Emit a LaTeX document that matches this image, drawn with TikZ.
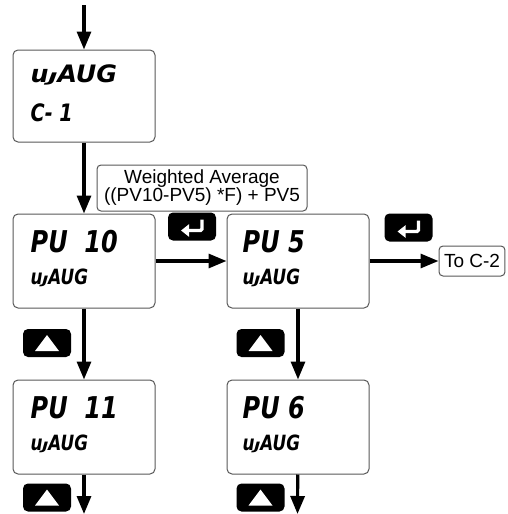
\documentclass[tikz,border=0pt]{standalone}
\usepackage{fontspec}
\setmainfont{Liberation Sans}
\newfontfamily\lcdfont{DejaVu Sans}[FakeStretch=0.8]
\newfontfamily\lcdwide{DejaVu Sans}[FakeStretch=1.05]
\usetikzlibrary{arrows.meta, positioning}
\definecolor{boxedge}{RGB}{88,88,88}
\newcommand{\lcdw}{u\kern-0.5pt\scalebox{1}[0.55]{J}}

\begin{document}
\begin{tikzpicture}[
    x=1pt, y=-1pt,
    node distance=71pt,
    display/.style={rectangle, rounded corners=5pt, draw=boxedge, line width=1pt, fill=white, minimum width=142pt, minimum height=94pt, inner sep=0pt},
    lcdbig/.style={anchor=base west, inner sep=0pt, font=\lcdfont\bfseries\itshape\fontsize{30}{30}\selectfont},
    lcdsmall/.style={anchor=base west, inner sep=0pt, font=\lcdfont\bfseries\itshape\fontsize{21}{21}\selectfont},
    note/.style={rectangle, rounded corners=4pt, draw=boxedge, line width=1pt, fill=white, align=center, inner sep=2pt, font=\fontsize{19}{18}\selectfont},
    keybox/.style={rectangle, rounded corners=5pt, fill=black, minimum width=48pt, minimum height=28pt, inner sep=0pt},
    enterkey/.style={keybox, path picture={\draw[white, line width=3.2pt, rounded corners=1.5pt, -{Triangle[length=8pt,width=12pt]}] ([shift={(10pt,7pt)}]path picture bounding box.center) -- ++(0pt,-11pt) -- ++(-21pt,0pt);}},
    upkey/.style={keybox, path picture={\fill[white, sharp corners] ([shift={(-12pt,-8pt)}]path picture bounding box.center) -- ++(24pt,0pt) -- ++(-12pt,16pt) -- cycle;}},
    harrow/.style={-{Triangle[length=18pt,width=14pt]}, line width=3.2pt}
]
\useasboundingbox (0,0) rectangle (507,514);

% display boxes
\node[display, minimum height=92pt] (wavg) at (84,96) {};
\node[display, below=of wavg] (pvten) {};
\node[display, right=of pvten] (pvfive) {};
\node[display, below=of pvten] (pveleven) {};
\node[display, below=of pvfive] (pvsix) {};
\node[note, right=69pt of pvfive, inner xsep=5pt, minimum height=30pt] (toctwo) {To C-2};
\node[note, minimum width=210pt, minimum height=46pt] (formula) at (202,188) {Weighted Average\\((PV10-PV5) *F) + PV5};

% display texts
\node[lcdbig, font=\lcdwide\bfseries\itshape\fontsize{24}{24}\selectfont] (wavgtop) at ([shift={(18pt,-33pt)}]wavg.north west) {\lcdw AUG};
\node[lcdsmall, font=\lcdfont\bfseries\itshape\fontsize{24}{24}\selectfont] (wavgbot) at ([shift={(18pt,-72pt)}]wavg.north west) {C- 1};
\node[lcdbig] (pvtentop) at ([shift={(18pt,-39pt)}]pvten.north west) {PU\ \ 10};
\node[lcdsmall] (pvtenbot) at ([shift={(18pt,-71pt)}]pvten.north west) {\lcdw AUG};
\node[lcdbig] (pvfivetop) at ([shift={(16pt,-39pt)}]pvfive.north west) {PU\ 5};
\node[lcdsmall] (pvfivebot) at ([shift={(16pt,-71pt)}]pvfive.north west) {\lcdw AUG};
\node[lcdbig] (pveleventop) at ([shift={(18pt,-39pt)}]pveleven.north west) {PU\ \ 11};
\node[lcdsmall] (pvelevenbot) at ([shift={(18pt,-71pt)}]pveleven.north west) {\lcdw AUG};
\node[lcdbig] (pvsixtop) at ([shift={(16pt,-39pt)}]pvsix.north west) {PU\ 6};
\node[lcdsmall] (pvsixbot) at ([shift={(16pt,-71pt)}]pvsix.north west) {\lcdw AUG};

% keys
\node[enterkey] (entera) at (192,226.5) {};
\node[enterkey] (enterb) at (408.5,227.5) {};
\node[upkey] (upa) at (47,343) {};
\node[upkey] (upb) at (260.5,343) {};
\node[upkey] (upc) at (47,497.5) {};
\node[upkey] (upd) at (260.5,497.5) {};

\coordinate (entry) at (84,5);
\coordinate (exita) at (84,514);
\coordinate (exitb) at (297.5,514);

\draw[harrow] (entry) -- (wavg);
\draw[harrow] (wavg) -- (pvten);
\draw[harrow] (pvten) -- (pvfive);
\draw[harrow] (pvfive) -- (toctwo);
\draw[harrow] (pvten) -- (pveleven);
\draw[harrow] (pvfive) -- (pvsix);
\draw[harrow] (pveleven) -- (exita);
\draw[harrow] (pvsix) -- (exitb);
\end{tikzpicture}
\end{document}
